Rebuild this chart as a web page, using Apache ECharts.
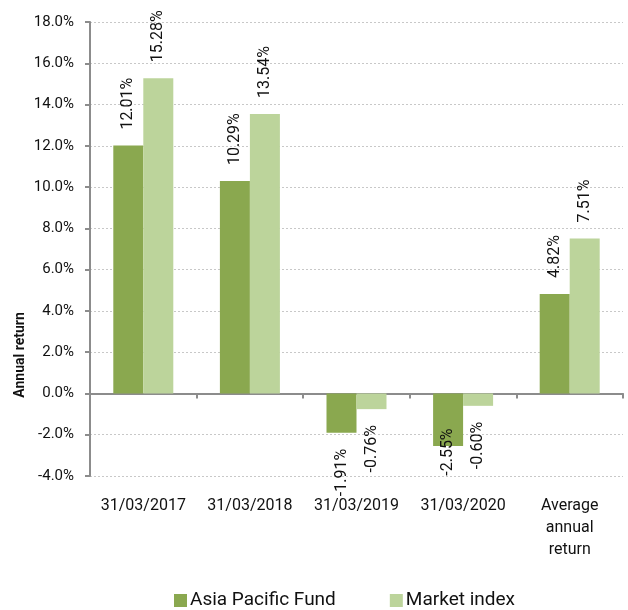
<!DOCTYPE html>
<html>
<head>
<meta charset="utf-8">
<script src="https://cdn.jsdelivr.net/npm/echarts@6/dist/echarts.min.js"></script>
<style>
    html, body { margin: 0; padding: 0; background: #fff; }
    #chart { width: 628px; height: 610px; }
</style>
</head>
<body>
<div id="chart"></div>
<script>
const categories = ['31/03/2017', '31/03/2018', '31/03/2019', '31/03/2020', 'Average\nannual\nreturn'];
const fundName = 'Asia Pacific Fund';
const indexName = 'Market index';
const fundValues = [12.01, 10.29, -1.91, -2.55, 4.82];
const indexValues = [15.28, 13.54, -0.76, -0.60, 7.51];

const FONT = 'Roboto';

function labelled(values) {
    return values.map(function (v) {
        if (v >= 0) {
            return { value: v, label: { position: 'top', align: 'left', distance: 16 } };
        }
        if (v < -2.2) {
            // keep the label inside the plot, as the original does
            return { value: v, label: { position: 'bottom', align: 'center', distance: 6 } };
        }
        return { value: v, label: { position: 'bottom', align: 'right', distance: 16 } };
    });
}

function barSeries(name, values, color) {
    return {
        name: name,
        type: 'bar',
        barWidth: 30,
        barGap: '0%',
        itemStyle: { color: color },
        label: {
            show: true,
            rotate: 90,
            verticalAlign: 'middle',
            fontFamily: FONT,
            fontSize: 16,
            color: '#111',
            formatter: function (p) { return p.value.toFixed(2) + '%'; }
        },
        data: labelled(values)
    };
}

const chart = echarts.init(document.getElementById('chart'));

chart.setOption({
    animation: false,
    grid: { left: 90, right: 5, top: 22, bottom: 134 },
    legend: {
        bottom: 0,
        left: 174,
        padding: 0,
        itemWidth: 13,
        itemHeight: 13,
        itemGap: 54,
        icon: 'rect',
        textStyle: { fontFamily: FONT, fontSize: 19, color: '#111', padding: [0, 0, 0, -2] },
        data: [fundName, indexName]
    },
    graphic: [{
        type: 'text',
        x: 20,
        y: 355,
        rotation: Math.PI / 2,
        style: {
            text: 'Annual return',
            font: 'bold 14px Roboto',
            fill: '#111',
            align: 'center',
            verticalAlign: 'middle'
        }
    }],
    xAxis: [{
        type: 'category',
        data: categories,
        position: 'bottom',
        axisLine: { show: false, onZero: false },
        axisTick: { show: false },
        axisLabel: { fontFamily: FONT, fontSize: 16, color: '#111', margin: 19, lineHeight: 22, interval: 0 }
    }, {
        type: 'category',
        data: categories,
        axisLine: { onZero: true, lineStyle: { color: '#8c8c8c', width: 2 } },
        axisTick: { show: true, inside: true, length: 5, lineStyle: { color: '#8c8c8c', width: 2 } },
        axisLabel: { show: false }
    }],
    yAxis: {
        type: 'value',
        min: -4,
        max: 18,
        interval: 2,
        axisLine: { show: true, lineStyle: { color: '#8c8c8c', width: 2 } },
        axisTick: { show: true, length: 5, lineStyle: { color: '#8c8c8c', width: 2 } },
        axisLabel: {
            fontFamily: FONT, fontSize: 15, color: '#111', margin: 16,
            formatter: function (v) { return v.toFixed(1) + '%'; }
        },
        splitLine: { lineStyle: { color: '#c8c8c8', type: [2, 2] } }
    },
    series: [
        barSeries(fundName, fundValues, '#8aa84f'),
        barSeries(indexName, indexValues, '#bcd49b')
    ]
});
</script>
</body>
</html>
